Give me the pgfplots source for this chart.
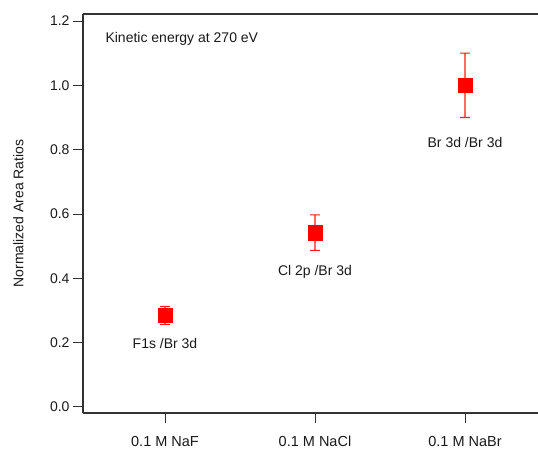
\documentclass[border=0pt]{standalone}
\usepackage{pgfplots}
\pgfplotsset{compat=1.18}
\usepackage{fontspec}
\setmainfont{Liberation Sans}
\begin{document}
\begin{tikzpicture}
\useasboundingbox (-83pt,-38pt) rectangle (455pt,413pt);
\begin{axis}[
  at={(0pt,0pt)}, anchor=south west,
  scale only axis, width=455pt, height=399pt,
  xmin=-0.5467, xmax=2.4867,
  ymin=-0.0187, ymax=1.2218,
  axis x line*=bottom, axis y line*=left,
  xtick={0,1,2},
  xticklabels={0.1 M NaF, 0.1 M NaCl, 0.1 M NaBr},
  ytick={0,0.2,0.4,0.6,0.8,1.0,1.2},
  yticklabel style={/pgf/number format/.cd, fixed, fixed zerofill, precision=1},
  /pgf/number format/assume math mode=true,
  tick align=outside,
  major tick length=10pt,
  axis line style={black!80, line width=1.2pt, -},
  tick style={black!80, line width=1pt},
  font=\fontsize{14pt}{16pt}\selectfont,
  tick label style={black!90},
  xticklabel style={yshift=-9.5pt, font=\fontsize{14.5pt}{16pt}\selectfont},
  ylabel={Normalized Area Ratios},
  ylabel style={at={(axis description cs:-0.142,0.5)}, anchor=center, black!90},
  extra description/.code={
    \draw[black!80, line width=1.2pt] (rel axis cs:0,1) -- (rel axis cs:1,1);
  },
]
% error bars as filled I-beam outlines: value +- error (NaF 0.285+-0.028, NaCl 0.542+-0.055, NaBr 1.0+-0.1)
\addplot[fill=red!90, draw=none, forget plot] coordinates {
  (-0.033,0.3146) (0.033,0.3146) (0.033,0.3114) (0.0038,0.3114) (0.0038,0.2586) (0.033,0.2586)
  (0.033,0.2554) (-0.033,0.2554) (-0.033,0.2586) (-0.0038,0.2586) (-0.0038,0.3114) (-0.033,0.3114)};
\addplot[fill=red!90, draw=none, forget plot] coordinates {
  (0.967,0.5986) (1.033,0.5986) (1.033,0.5954) (1.0038,0.5954) (1.0038,0.4886) (1.033,0.4886)
  (1.033,0.4854) (0.967,0.4854) (0.967,0.4886) (0.9962,0.4886) (0.9962,0.5954) (0.967,0.5954)};
\addplot[fill=red!90, draw=none, forget plot] coordinates {
  (1.967,1.1016) (2.033,1.1016) (2.033,1.0984) (2.0038,1.0984) (2.0038,0.9016) (2.033,0.9016)
  (2.033,0.8984) (1.967,0.8984) (1.967,0.9016) (1.9962,0.9016) (1.9962,1.0984) (1.967,1.0984)};
% values
\addplot[red, only marks, mark=square*, mark size=7.3pt,
  mark options={fill=red, draw=red}]
  coordinates {
    (0, 0.285)
    (1, 0.542)
    (2, 1.000)
  };
\node[anchor=west, black!90] at (rel axis cs:0.0418,0.937) {Kinetic energy at 270 eV};
\node[black!90] at (axis cs:0,0.196) {F1s /Br 3d};
\node[black!90] at (axis cs:1,0.42) {Cl 2p /Br 3d};
\node[black!90] at (axis cs:2,0.821) {Br 3d /Br 3d};
\end{axis}
\end{tikzpicture}
\end{document}
